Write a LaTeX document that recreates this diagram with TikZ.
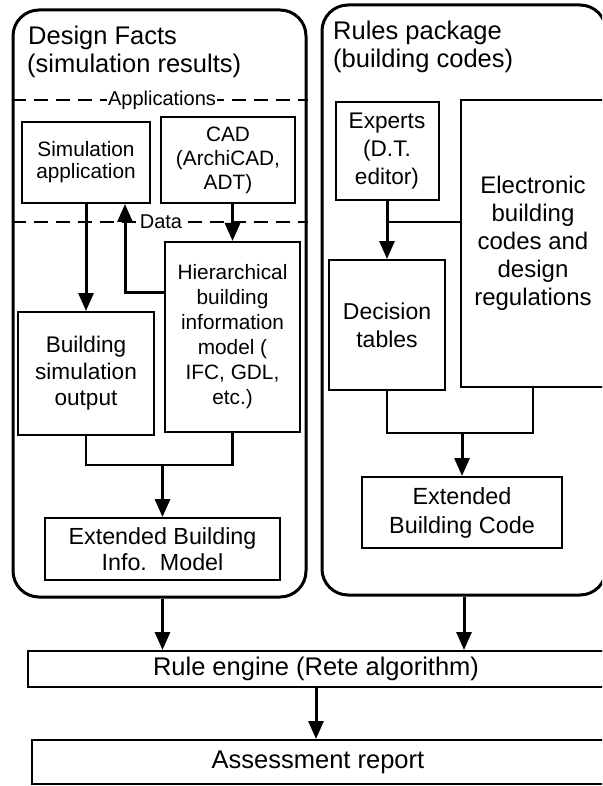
\documentclass[tikz,border=0pt]{standalone}
\usepackage{fontspec}
\setmainfont{Liberation Sans}
\usetikzlibrary{arrows.meta}
\tikzset{
  cont/.style={draw, line width=3pt, rounded corners=26pt, inner sep=0pt},
  box/.style={draw, line width=2pt, align=center, inner sep=0pt},
  arr/.style={line width=3pt, -{Triangle[length=18pt,width=15pt]}},
  link/.style={line width=2.6pt},
  sepline/.style={line width=1.4pt, dash pattern=on 14pt off 8pt},
  lbl/.style={fill=white, inner sep=1pt, font=\fontsize{20}{24}\selectfont},
  title/.style={anchor=base west, inner sep=0pt, font=\fontsize{25.5}{30}\selectfont},
}
\begin{document}
\begin{tikzpicture}[x=1pt, y=-1pt]
\useasboundingbox (0,0) rectangle (602,786);
\clip (0,0) rectangle (602,786);

% containers
\node[cont, minimum width=293pt, minimum height=587pt] (leftC) at (159.5,303.5) {};
\node[cont, minimum width=284pt, minimum height=590pt] (rightC) at (464,300) {};

% titles
\node[title] (t1) at (28,45) {Design Facts};
\node[title] (t1b) at (27,73) {(simulation results)};
\node[title] (t2) at (333,40) {Rules package};
\node[title] (t2b) at (333,68) {(building codes)};

% separators
\coordinate (appY) at (0,100);
\coordinate (datY) at (0,222);
\draw[sepline] (leftC.west |- appY) -- (leftC.east |- appY);
\draw[sepline] (leftC.west |- datY) -- (leftC.east |- datY);
\node[lbl] (applbl) at (162,100) {Applications};
\node[lbl] (datlbl) at (161,222) {Data};

% left boxes
\node[box, minimum width=128pt, minimum height=81pt, font=\fontsize{20.8}{22}\selectfont] (sim) at (86,162.5) {Simulation\\application};
\node[box, minimum width=134pt, minimum height=86pt, font=\fontsize{20.8}{24}\selectfont] (cad) at (228,160) {CAD\\(ArchiCAD,\\ADT)};
\node[box, minimum width=135pt, minimum height=190pt, font=\fontsize{20.8}{25}\selectfont] (hier) at (232.5,337) {Hierarchical\\building\\information\\model (\\IFC, GDL,\\etc.)};
\node[box, minimum width=136pt, minimum height=123pt, font=\fontsize{22.6}{26.5}\selectfont] (bso) at (86,373.5) {Building\\simulation\\output};
\node[box, minimum width=235pt, minimum height=62pt, font=\fontsize{23.3}{26}\selectfont] (ebim) at (162.5,549) {Extended Building\\Info.\ \ Model};

% right boxes
\node[box, minimum width=103pt, minimum height=98pt, font=\fontsize{22.6}{28}\selectfont] (experts) at (387,151) {Experts\\(D.T.\\editor)};
\node[box, minimum width=144pt, minimum height=287pt, font=\fontsize{24}{28}\selectfont] (elec) at (533,243.5) {Electronic\\building\\codes and\\design\\regulations};
\node[box, minimum width=116pt, minimum height=130pt, font=\fontsize{23}{28}\selectfont] (dec) at (387,325) {Decision\\tables};
\node[box, minimum width=200pt, minimum height=71pt, font=\fontsize{23.4}{29}\selectfont] (ebc) at (462,512.5) {Extended\\Building Code};

% bottom boxes
\node[box, minimum width=576pt, minimum height=36pt, font=\fontsize{25.5}{30}\selectfont] (rule) at (316,669) {Rule engine (Rete algorithm)};
\node[box, minimum width=572pt, minimum height=44pt, font=\fontsize{25.5}{30}\selectfont] (assess) at (318,762) {Assessment report};

% connectors left
\draw[arr] (sim.south) -- (bso.north);
\draw[arr] (hier.north |- cad.south) -- (hier.north);
\draw[arr] ([yshift=45pt]hier.west) -| ([xshift=39pt]sim.south);
\coordinate (mL) at (ebim.north |- 0,465);
\draw[link] (bso.south) |- (mL) -| (hier.south);
\draw[arr] (mL) -- (ebim.north);

% connectors right
\coordinate (jR) at (experts.south |- 0,222);
\draw[arr] (experts.south) -- (dec.north);
\draw[link] (jR) -- (jR -| elec.west);
\coordinate (mR) at (ebc.north |- 0,433);
\draw[link] (dec.south) |- (mR) -| (elec.south);
\draw[arr] (mR) -- (ebc.north);

% to rule engine and report
\draw[arr] (ebim.south |- leftC.south) -- (ebim.south |- rule.north);
\draw[arr] (rightC.south) -- (rightC.south |- rule.north);
\draw[arr] (rule.south) -- (rule.south |- assess.north);
\end{tikzpicture}
\end{document}
